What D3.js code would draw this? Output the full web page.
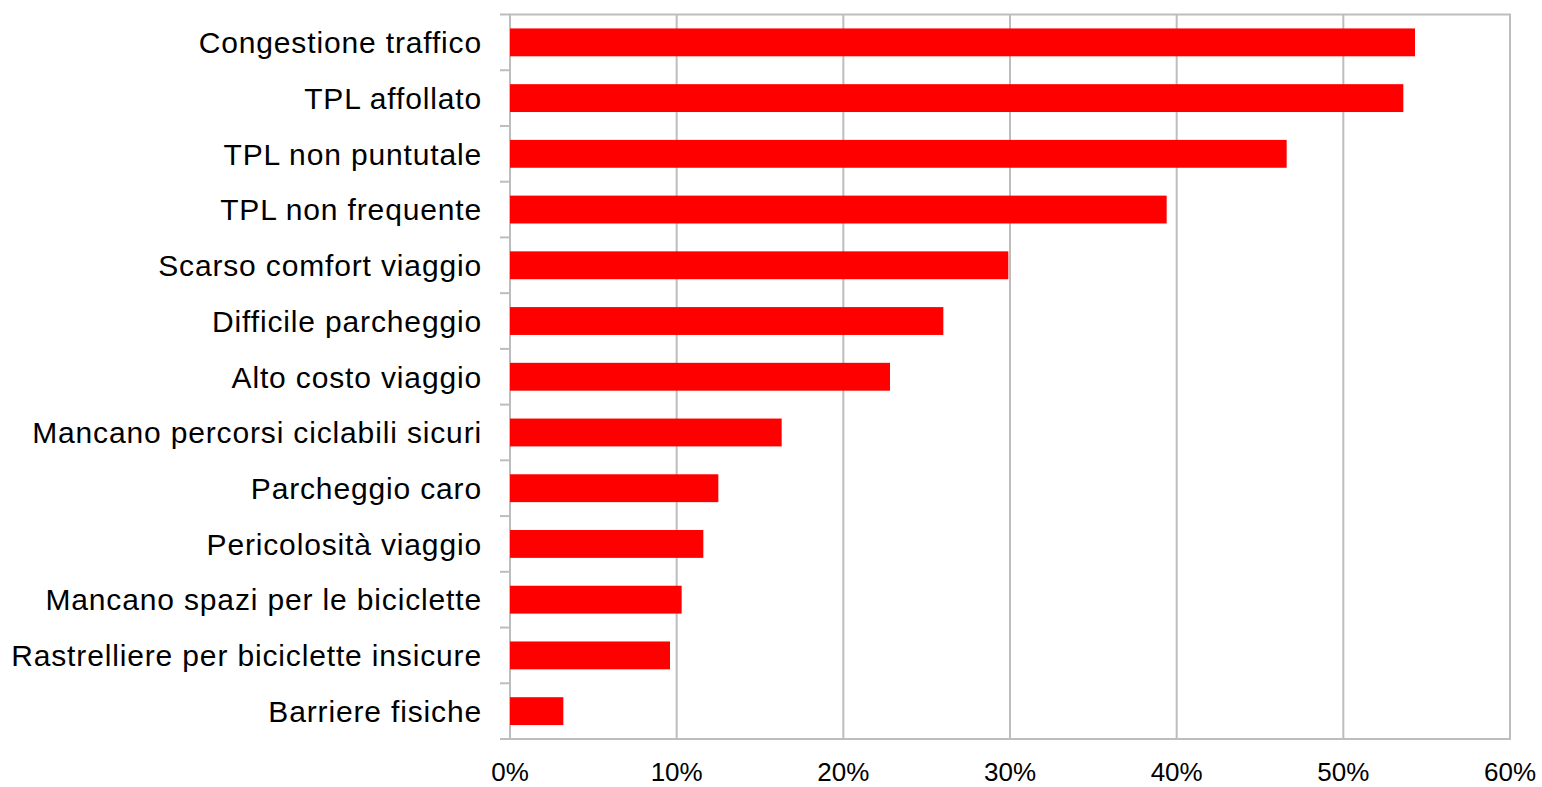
<!DOCTYPE html>
<html>
<head>
<meta charset="utf-8">
<script src="https://cdn.jsdelivr.net/npm/d3@7"></script>
<style>
  body { margin: 0; background: #fff; }
  text { font-family: "Liberation Sans", Arial, sans-serif; fill: #000; }
</style>
</head>
<body>
<svg width="1542" height="787"></svg>
<script>
// categories, top to bottom
var categories = [
    "Congestione traffico",
    "TPL affollato",
    "TPL non puntutale",
    "TPL non frequente",
    "Scarso comfort viaggio",
    "Difficile parcheggio",
    "Alto costo viaggio",
    "Mancano percorsi ciclabili sicuri",
    "Parcheggio caro",
    "Pericolosità viaggio",
    "Mancano spazi per le biciclette",
    "Rastrelliere per biciclette insicure",
    "Barriere fisiche"
];
// share of answers (%)
var values = [54.3, 53.6, 46.6, 39.4, 29.9, 26.0, 22.8, 16.3, 12.5, 11.6, 10.3, 9.6, 3.2];
var ticks = [0, 10, 20, 30, 40, 50, 60];

var data = categories.map(function(c, i) { return { name: c, value: values[i] }; });

var svg = d3.select("svg"),
    margin = { top: 14.5, right: 32, bottom: 48, left: 510 },
    width = +svg.attr("width") - margin.left - margin.right,
    height = +svg.attr("height") - margin.top - margin.bottom;

var g = svg.append("g").attr("transform", "translate(" + margin.left + "," + margin.top + ")");

var x = d3.scaleLinear().domain([0, 60]).range([0, width]);
var y = d3.scaleBand().domain(categories).range([0, height]).paddingInner(0.5).paddingOuter(0.25);

var gridColor = "#bdbdbd";

// vertical gridlines
g.append("g")
    .selectAll("line")
    .data(ticks)
    .enter().append("line")
    .attr("x1", function(d) { return x(d); })
    .attr("x2", function(d) { return x(d); })
    .attr("y1", 0)
    .attr("y2", height)
    .attr("stroke", gridColor)
    .attr("stroke-width", 2);

// frame
g.append("rect")
    .attr("x", 0).attr("y", 0)
    .attr("width", width).attr("height", height)
    .attr("fill", "none")
    .attr("stroke", gridColor)
    .attr("stroke-width", 2);

// category ticks on the left at band edges
var edges = d3.range(categories.length + 1).map(function(i) { return i * height / categories.length; });
g.append("g")
    .selectAll("line")
    .data(edges)
    .enter().append("line")
    .attr("x1", -10)
    .attr("x2", 0)
    .attr("y1", function(d) { return d; })
    .attr("y2", function(d) { return d; })
    .attr("stroke", gridColor)
    .attr("stroke-width", 2);

// bars
g.append("g")
    .selectAll("rect")
    .data(data)
    .enter().append("rect")
    .attr("x", x(0))
    .attr("y", function(d) { return y(d.name); })
    .attr("width", function(d) { return x(d.value) - x(0); })
    .attr("height", y.bandwidth())
    .attr("fill", "#ff0000");

// category labels
g.append("g")
    .selectAll("text")
    .data(data)
    .enter().append("text")
    .attr("x", -28)
    .attr("y", function(d) { return y(d.name) + y.bandwidth() / 2; })
    .attr("dy", "0.36em")
    .attr("text-anchor", "end")
    .style("font-size", "30px")
    .style("letter-spacing", "0.85px")
    .text(function(d) { return d.name; });

// x tick labels
g.append("g")
    .selectAll("text")
    .data(ticks)
    .enter().append("text")
    .attr("x", function(d) { return x(d); })
    .attr("y", height + 42)
    .attr("text-anchor", "middle")
    .style("font-size", "26px")
    .text(function(d) { return d + "%"; });
</script>
</body>
</html>
